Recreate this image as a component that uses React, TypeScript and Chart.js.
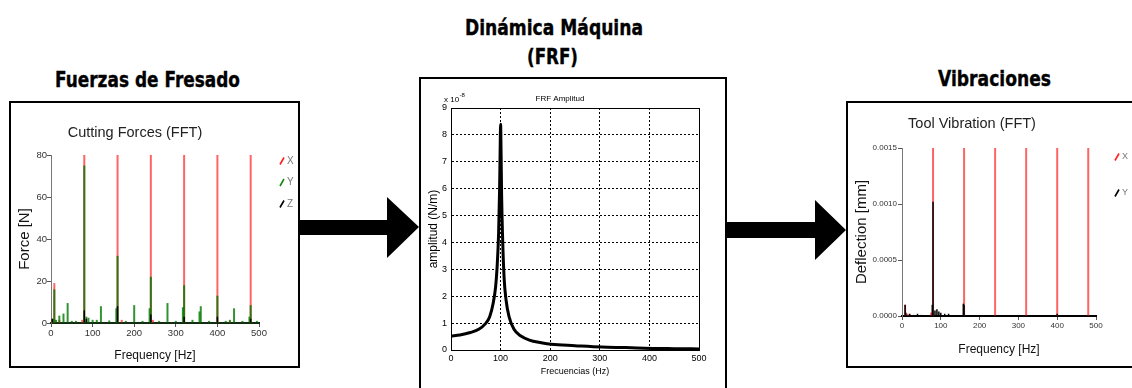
import React, { useEffect, useRef } from 'react';
import { Chart, registerables } from 'chart.js';

Chart.register(...registerables);

const FONT = '"Liberation Sans", Arial, Helvetica, sans-serif';

// ---------- Panel 1: Cutting Forces (FFT) ----------
const freqTicks = [0, 100, 200, 300, 400, 500];
const forceYTicks = [0, 20, 40, 60, 80];
const forceXFreq = [3, 8, 20, 75, 80, 160, 170, 240, 245, 320, 400, 430, 480];
const forceXVal = [1.5, 19, 1.5, 1.5, 150, 150, 1.5, 150, 1.5, 150, 150, 1, 150];
const forceYFreq = [5, 8, 12, 20, 30, 40, 50, 60, 80, 85, 90, 100, 110, 120, 140, 157, 160, 180, 200, 220, 237, 240, 260, 280, 300, 317, 320, 340, 357, 360, 380, 400, 420, 430, 440, 460, 477, 480, 495];
const forceYVal = [2, 16, 1.5, 3.5, 4.5, 9.5, 1, 1, 75, 3, 2.5, 1.5, 1.5, 8, 1.2, 7, 32, 1, 8.5, 1, 7, 22, 1, 9.5, 1, 7.5, 18, 1.5, 5.5, 8, 1, 13, 1, 1.5, 7, 1, 3, 8.5, 1];
const forceZFreq = [3, 80, 85, 160, 240, 320, 400, 480];
const forceZVal = [2, 6, 2, 8, 4, 3, 3, 2];

// ---------- Panel 2: FRF amplitude (values x 10^-8 N/m) ----------
const frfYTicks = [0, 1, 2, 3, 4, 5, 6, 7, 8, 9];
const frfFreq = [0, 18, 39, 56, 69, 78, 85, 90, 93, 96, 98, 99, 100, 101, 102, 104, 107, 111, 117, 127, 141, 158, 182, 202, 250, 304, 352, 406, 450, 500];
const frfAmp = [0.52, 0.56, 0.65, 0.77, 0.97, 1.24, 1.74, 2.36, 3.1, 4.35, 6.0, 7.3, 8.4, 7.3, 5.8, 4.2, 2.7, 1.86, 1.24, 0.77, 0.52, 0.37, 0.27, 0.21, 0.16, 0.11, 0.09, 0.06, 0.05, 0.04];

// ---------- Panel 3: Tool Vibration (FFT) ----------
const vibYTicks = [0, 0.0005, 0.001, 0.0015];
const vibXFreq = [8, 15, 75, 80, 160, 240, 320, 400, 480];
const vibXVal = [0.0001, 0.00002, 0.00003, 0.002, 0.002, 0.002, 0.002, 0.002, 0.002];
const vibYFreq = [8, 10, 20, 30, 40, 50, 78, 80, 85, 90, 95, 100, 110, 120, 158, 160, 400];
const vibYVal = [0.0001, 0.00003, 0.00002, 0.00001, 0.00002, 0.00001, 0.0001, 0.00102, 0.00005, 0.00006, 0.00004, 0.00003, 0.00002, 0.00002, 0.00011, 0.0001, 0.00002];

const pts = (xs: number[], ys: number[]) => xs.map((x, i) => ({ x, y: ys[i] }));
const setTicks = (arr: number[]) => (s: any) => {
  s.ticks = arr.map((v) => ({ value: v }));
};

const slashLegend = {
  id: 'slashLegend',
  afterDraw(chart: any, _args: any, opts: any) {
    if (!opts || opts.dx === undefined) return;
    const { ctx, chartArea } = chart;
    ctx.save();
    chart.data.datasets.forEach((ds: any, i: number) => {
      const x = chartArea.right + opts.dx;
      const y = chartArea.top + opts.dy + i * opts.gap;
      ctx.strokeStyle = ds.legendColor;
      ctx.lineWidth = 1.6;
      ctx.beginPath();
      ctx.moveTo(x - 2, y + 3.5);
      ctx.lineTo(x + 2, y - 3.5);
      ctx.stroke();
      ctx.fillStyle = '#777';
      ctx.font = `${opts.size}px ${FONT}`;
      ctx.textBaseline = 'middle';
      ctx.textAlign = 'left';
      ctx.fillText(ds.label, x + 5, y);
    });
    ctx.restore();
  },
};

const exponentLabel = {
  id: 'exponentLabel',
  afterDraw(chart: any, _args: any, opts: any) {
    if (!opts || !opts.base) return;
    const { ctx, chartArea } = chart;
    ctx.save();
    ctx.fillStyle = '#000';
    ctx.textBaseline = 'alphabetic';
    ctx.textAlign = 'left';
    ctx.font = `8px ${FONT}`;
    const x = chartArea.left + opts.dx;
    const y = chartArea.top + opts.dy;
    ctx.fillText(opts.base, x, y);
    const w = ctx.measureText(opts.base).width;
    ctx.font = `6px ${FONT}`;
    ctx.fillText(opts.exp, x + w + 0.5, y - 5);
    ctx.restore();
  },
};

const spike = { grouped: false, inflateAmount: 0, borderWidth: 0 };

function forcesConfig(): any {
  return {
    type: 'bar',
    data: {
      datasets: [
        { ...spike, label: 'X', data: pts(forceXFreq, forceXVal), backgroundColor: 'rgba(255,40,40,0.72)', barThickness: 2, order: 3, legendColor: '#ff2020' },
        { ...spike, label: 'Y', data: pts(forceYFreq, forceYVal), backgroundColor: 'rgba(0,120,0,0.8)', barThickness: 2, order: 2, legendColor: '#118811' },
        { ...spike, label: 'Z', data: pts(forceZFreq, forceZVal), backgroundColor: '#000', barThickness: 1.5, order: 1, legendColor: '#000' },
      ],
    },
    options: {
      animation: false,
      responsive: false,
      devicePixelRatio: 1,
      layout: { padding: { left: 0, right: 39, top: 0, bottom: 0 } },
      plugins: {
        legend: { display: false },
        tooltip: { enabled: false },
        title: { display: true, text: 'Cutting Forces (FFT)', color: '#222', font: { family: FONT, size: 14.5, weight: 'normal' }, padding: { top: 21, bottom: 13.6 } },
        slashLegend: { dx: 23, dy: 6, gap: 21.5, size: 10 },
      },
      scales: {
        x: {
          type: 'linear', min: 0, max: 500, offset: false,
          afterBuildTicks: setTicks(freqTicks),
          afterFit: (s: any) => { s.height = 43; },
          grid: { display: true, offset: false, drawOnChartArea: false, drawTicks: true, tickLength: 4, color: '#555' },
          border: { display: true, color: '#132a13', width: 2 },
          ticks: { color: '#333', font: { family: FONT, size: 9.5 }, padding: 1, maxRotation: 0, autoSkip: false },
          title: { display: true, text: 'Frequency [Hz]', color: '#111', font: { family: FONT, size: 12 }, padding: { top: 0, bottom: 2.8 } },
        },
        y: {
          type: 'linear', min: 0, max: 80,
          afterBuildTicks: setTicks(forceYTicks),
          afterFit: (s: any) => { s.width = 40; },
          grid: { display: true, drawOnChartArea: false, drawTicks: true, tickLength: 4, color: '#555' },
          border: { display: true, color: '#777', width: 1 },
          ticks: { color: '#333', font: { family: FONT, size: 9.5 }, padding: 0 },
          title: { display: true, text: 'Force [N]', color: '#111', font: { family: FONT, size: 15 }, padding: { top: 5, bottom: 0 } },
        },
      },
    },
    plugins: [slashLegend],
  };
}

function frfConfig(): any {
  return {
    type: 'line',
    data: {
      datasets: [
        { label: 'FRF', data: pts(frfFreq, frfAmp), borderColor: '#000', borderWidth: 3, pointRadius: 0, fill: false, cubicInterpolationMode: 'monotone' },
      ],
    },
    options: {
      animation: false,
      responsive: false,
      devicePixelRatio: 1,
      layout: { padding: { left: 0, right: 26, top: 0, bottom: 0 } },
      plugins: {
        legend: { display: false },
        tooltip: { enabled: false },
        title: { display: true, text: 'FRF Amplitud', color: '#000', font: { family: FONT, size: 8, weight: 'normal' }, padding: { top: 15.2, bottom: 4.2 } },
        exponentLabel: { base: 'x 10', exp: '-8', dx: -7, dy: -6 },
      },
      scales: {
        x: {
          type: 'linear', min: 0, max: 500,
          afterBuildTicks: setTicks(freqTicks),
          afterFit: (s: any) => { s.height = 38; },
          grid: { display: true, color: '#000', lineWidth: 1, drawTicks: false },
          border: { display: true, color: '#000', width: 1, dash: [2, 2] },
          ticks: { color: '#000', font: { family: FONT, size: 9 }, padding: 3, maxRotation: 0, autoSkip: false },
          title: { display: true, text: 'Frecuencias (Hz)', color: '#000', font: { family: FONT, size: 9 }, padding: { top: 0, bottom: 10.6 } },
        },
        y: {
          type: 'linear', min: 0, max: 9,
          afterBuildTicks: setTicks(frfYTicks),
          afterFit: (s: any) => { s.width = 30; },
          grid: { display: true, color: '#000', lineWidth: 1, drawTicks: false },
          border: { display: true, color: '#000', width: 1, dash: [2, 2] },
          ticks: { color: '#000', font: { family: FONT, size: 9 }, padding: 4 },
          title: { display: true, text: 'amplitud (N/m)', color: '#000', font: { family: FONT, size: 12 }, padding: { top: 5.8, bottom: 0 } },
        },
        x2: {
          axis: 'x', type: 'linear', position: 'top', min: 0, max: 500,
          afterFit: (s: any) => { s.height = 0; },
          grid: { display: false, drawTicks: false },
          ticks: { display: false },
          border: { display: true, color: '#000', width: 1 },
        },
        y2: {
          axis: 'y', type: 'linear', position: 'right', min: 0, max: 9,
          afterFit: (s: any) => { s.width = 0; },
          grid: { display: false, drawTicks: false },
          ticks: { display: false },
          border: { display: true, color: '#000', width: 1 },
        },
      },
    },
    plugins: [exponentLabel],
  };
}

function vibConfig(): any {
  return {
    type: 'bar',
    data: {
      datasets: [
        { ...spike, label: 'X', data: pts(vibXFreq, vibXVal), backgroundColor: 'rgba(255,40,40,0.72)', barThickness: 2, order: 2, legendColor: '#ff2020' },
        { ...spike, label: 'Y', data: pts(vibYFreq, vibYVal), backgroundColor: '#000', barThickness: 1.5, order: 1, legendColor: '#000' },
      ],
    },
    options: {
      animation: false,
      responsive: false,
      devicePixelRatio: 1,
      layout: { padding: { left: 0, right: 36, top: 0, bottom: 0 } },
      plugins: {
        legend: { display: false },
        tooltip: { enabled: false },
        title: { display: true, text: 'Tool Vibration (FFT)', color: '#222', font: { family: FONT, size: 14.5, weight: 'normal' }, padding: { top: 11.3, bottom: 15.3 } },
        slashLegend: { dx: 21, dy: 9, gap: 36, size: 9 },
      },
      scales: {
        x: {
          type: 'linear', min: 0, max: 500, offset: false,
          afterBuildTicks: setTicks(freqTicks),
          afterFit: (s: any) => { s.height = 50; },
          grid: { display: true, offset: false, drawOnChartArea: false, drawTicks: true, tickLength: 4, color: '#555' },
          border: { display: true, color: '#000', width: 2 },
          ticks: { color: '#333', font: { family: FONT, size: 8 }, padding: 1, maxRotation: 0, autoSkip: false },
          title: { display: true, text: 'Frequency [Hz]', color: '#111', font: { family: FONT, size: 12 }, padding: { top: 0, bottom: 9.3 } },
        },
        y: {
          type: 'linear', min: 0, max: 0.0015,
          afterBuildTicks: setTicks(vibYTicks),
          afterFit: (s: any) => { s.width = 54; },
          grid: { display: true, drawOnChartArea: false, drawTicks: true, tickLength: 4, color: '#555' },
          border: { display: true, color: '#777', width: 1 },
          ticks: { color: '#333', font: { family: FONT, size: 8 }, padding: 1, callback: (v: any) => Number(v).toFixed(4) },
          title: { display: true, text: 'Deflection [mm]', color: '#111', font: { family: FONT, size: 15 }, padding: { top: 5, bottom: 0 } },
        },
      },
    },
    plugins: [slashLegend],
  };
}

function ChartBox(props: { left: number; top: number; width: number; height: number; make: () => any }) {
  const ref = useRef<HTMLCanvasElement | null>(null);
  useEffect(() => {
    if (!ref.current) return;
    const chart = new Chart(ref.current, props.make());
    return () => chart.destroy();
  }, []);
  return (
    <canvas
      ref={ref}
      width={props.width}
      height={props.height}
      style={{ position: 'absolute', left: props.left, top: props.top, width: props.width, height: props.height }}
    />
  );
}

const headingStyle: any = { fontFamily: '"DejaVu Sans", Verdana, sans-serif', fontWeight: 'bold' };

export default function App() {
  return (
    <div style={{ position: 'fixed', left: 0, top: 0, width: 1132, height: 388, overflow: 'hidden', background: '#fff' }}>
      <svg width={1132} height={388} style={{ position: 'absolute', left: 0, top: 0 }}>
        <rect x={10} y={102} width={289} height={265} fill="none" stroke="#000" strokeWidth={2} />
        <path d="M420 392 V78 H726 V392" fill="none" stroke="#000" strokeWidth={2} />
        <path d="M1140 102 H847 V367 H1140" fill="none" stroke="#000" strokeWidth={2} />
        <polygon points="300,220 387,220 387,197 419,227 387,258 387,235 300,235" fill="#000" />
        <polygon points="727,222 815,222 815,200 846,230 815,260 815,238 727,238" fill="#000" />
        <text x={147.5} y={87} textAnchor="middle" fontSize={22} textLength={185} lengthAdjust="spacingAndGlyphs" stroke="#000" strokeWidth={0.4} style={headingStyle}>Fuerzas de Fresado</text>
        <text x={554} y={35} textAnchor="middle" fontSize={21.5} textLength={178} lengthAdjust="spacingAndGlyphs" stroke="#000" strokeWidth={0.4} style={headingStyle}>Dinámica Máquina</text>
        <text x={552.5} y={64} textAnchor="middle" fontSize={21.5} textLength={51} lengthAdjust="spacingAndGlyphs" stroke="#000" strokeWidth={0.4} style={headingStyle}>(FRF)</text>
        <text x={994.5} y={86} textAnchor="middle" fontSize={22} textLength={113} lengthAdjust="spacingAndGlyphs" stroke="#000" strokeWidth={0.4} style={headingStyle}>Vibraciones</text>
      </svg>
      <ChartBox left={11} top={103} width={287} height={263} make={forcesConfig} />
      <ChartBox left={421} top={79} width={304} height={309} make={frfConfig} />
      <ChartBox left={848} top={104} width={284} height={262} make={vibConfig} />
    </div>
  );
}
